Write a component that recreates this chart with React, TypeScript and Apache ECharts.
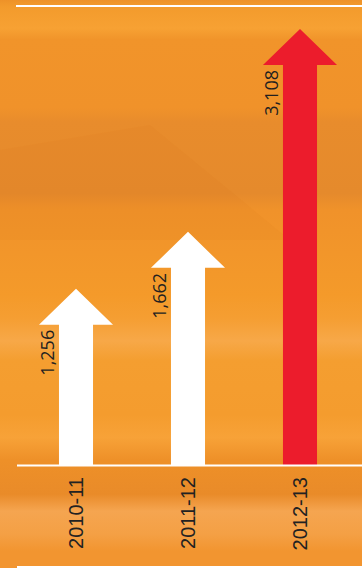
import React, { useEffect, useRef } from "react";
import * as echarts from "echarts";

const categories = ["2010-11", "2011-12", "2012-13"];
const values = [1256, 1662, 3108];
const arrowColors = ["#FFFFFF", "#FFFFFF", "#EC1C2C"];

export default function App() {
  const ref = useRef<HTMLDivElement>(null);
  useEffect(() => {
    document.body.style.margin = "0";
    const chart = echarts.init(ref.current!, null, { renderer: "svg" });
    const W = 362;
    const H = 568;
    const option: any = {
      animation: false,
      graphic: [
        {
          type: "rect",
          silent: true,
          z: -10,
          shape: { x: 0, y: 0, width: W, height: H },
          style: {
            fill: new echarts.graphic.LinearGradient(0, 0, 0, 1, [
              { offset: 0, color: "#EE9228" },
              { offset: 0.012, color: "#F39B2C" },
              { offset: 0.05, color: "#F7A133" },
              { offset: 0.07, color: "#F1942A" },
              { offset: 0.19, color: "#F0922A" },
              { offset: 0.215, color: "#E88C2C" },
              { offset: 0.34, color: "#E58A2C" },
              { offset: 0.37, color: "#F0922A" },
              { offset: 0.52, color: "#F49A2A" },
              { offset: 0.56, color: "#F59E32" },
              { offset: 0.6, color: "#F7A848" },
              { offset: 0.635, color: "#F49E30" },
              { offset: 0.73, color: "#F49C2E" },
              { offset: 0.77, color: "#F7A238" },
              { offset: 0.81, color: "#EE9028" },
              { offset: 0.87, color: "#E98B29" },
              { offset: 0.9, color: "#F5A550" },
              { offset: 0.94, color: "#F4A045" },
              { offset: 0.97, color: "#F29530" },
              { offset: 1, color: "#F29530" },
            ]),
          },
        },
        {
          type: "polygon",
          silent: true,
          z: -9,
          shape: {
            points: [
              [0, 150],
              [150, 125],
              [290, 240],
              [0, 240],
            ],
          },
          style: { fill: "rgba(200,105,25,0.06)" },
        },
        {
          type: "line",
          silent: true,
          z: 10,
          shape: { x1: 16, y1: 6, x2: W, y2: 6 },
          style: { stroke: "#FFFFFF", lineWidth: 2 },
        },
        {
          type: "line",
          silent: true,
          z: 10,
          shape: { x1: 17, y1: 465.5, x2: W, y2: 465.5 },
          style: { stroke: "#FFFFFF", lineWidth: 2 },
        },
        {
          type: "line",
          silent: true,
          z: 10,
          shape: { x1: 17, y1: 567, x2: W, y2: 567 },
          style: { stroke: "#FFFFFF", lineWidth: 2 },
        },
      ],
      grid: { left: 20, right: 6, top: 6, bottom: 103, containLabel: false },
      xAxis: {
        type: "category",
        data: categories,
        axisLine: { show: false },
        axisTick: { show: false },
        splitLine: { show: false },
        axisLabel: {
          rotate: 90,
          margin: 12,
          fontSize: 20,
          fontFamily: "Liberation Sans",
          color: "#222222",
        },
      },
      yAxis: {
        type: "value",
        min: 0,
        max: 3272,
        show: false,
        splitLine: { show: false },
      },
      series: [
        {
          type: "custom",
          data: values.map((v, i) => [i, v]),
          encode: { x: 0, y: 1 },
          renderItem: (params: any, api: any) => {
            const i = api.value(0);
            const v = api.value(1);
            const tip = api.coord([i, v]);
            const base = api.coord([i, 0]);
            const band = api.size([1, 0])[0];
            const sw = band * 0.304;
            const hw = band * 0.661;
            const hl = 36;
            const cx = tip[0];
            const hb = tip[1] + hl;
            return {
              type: "group",
              children: [
                {
                  type: "polygon",
                  shape: {
                    points: [
                      [cx - sw / 2, base[1]],
                      [cx - sw / 2, hb],
                      [cx - hw / 2, hb],
                      [cx, tip[1]],
                      [cx + hw / 2, hb],
                      [cx + sw / 2, hb],
                      [cx + sw / 2, base[1]],
                    ],
                  },
                  style: { fill: arrowColors[params.dataIndex] },
                },
                {
                  type: "text",
                  x: cx - sw / 2 - 12,
                  y: hb + 5,
                  rotation: Math.PI / 2,
                  style: {
                    text: values[params.dataIndex].toLocaleString("en-US"),
                    align: "right",
                    verticalAlign: "middle",
                    fontSize: 18,
                    fontFamily: "Open Sans",
                    fill: "#231F20",
                  },
                },
              ],
            };
          },
        },
      ],
    };
    chart.setOption(option);
    return () => chart.dispose();
  }, []);
  return <div ref={ref} style={{ width: 362, height: 568 }} />;
}
